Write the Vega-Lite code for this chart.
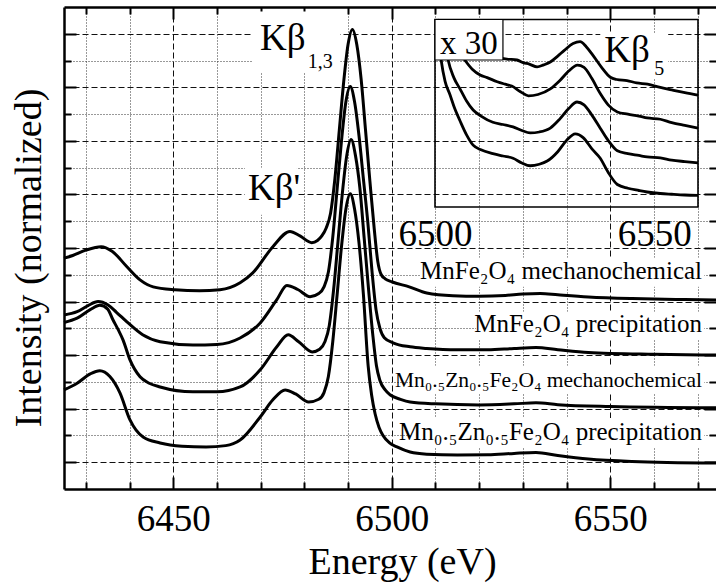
{
 "$schema": "https://vega.github.io/schema/vega-lite/v6.json",
 "width": 652,
 "height": 482,
 "autosize": {"type": "none"},
 "padding": {"left": 64, "top": 7, "right": 0, "bottom": 94},
 "config": {
  "font": "Liberation Serif",
  "view": {"stroke": null},
  "axis": {"labelFont": "Liberation Serif", "titleFont": "Liberation Serif", "labelColor": "black", "titleColor": "black", "domainColor": "black", "tickColor": "black", "titleFontWeight": "normal", "labelOverlap": false, "labelFlush": false}
 },
 "datasets": {
  "spectra": [
   {"s":"A","E":6425,"I":8.62},{"s":"A","E":6427,"I":8.72},{"s":"A","E":6430,"I":8.92},{"s":"A","E":6433.5,"I":9.05},{"s":"A","E":6436,"I":8.88},{"s":"A","E":6439.4,"I":8.3},{"s":"A","E":6442.4,"I":7.81},{"s":"A","E":6445.4,"I":7.55},{"s":"A","E":6450.4,"I":7.44},{"s":"A","E":6456,"I":7.4},{"s":"A","E":6460.7,"I":7.44},{"s":"A","E":6465.3,"I":7.7},{"s":"A","E":6468.2,"I":8.07},{"s":"A","E":6472.8,"I":9.05},{"s":"A","E":6476.7,"I":9.62},{"s":"A","E":6479,"I":9.45},{"s":"A","E":6481.7,"I":9.2},{"s":"A","E":6483,"I":9.28},{"s":"A","E":6484,"I":9.45},{"s":"A","E":6485,"I":9.75},{"s":"A","E":6486,"I":10.3},{"s":"A","E":6487,"I":11.6},{"s":"A","E":6488,"I":13.4},{"s":"A","E":6489,"I":15.2},{"s":"A","E":6490,"I":16.6},{"s":"A","E":6491,"I":17.16},{"s":"A","E":6492,"I":16.6},{"s":"A","E":6493,"I":15.3},{"s":"A","E":6494,"I":13.4},{"s":"A","E":6495,"I":11.5},{"s":"A","E":6496,"I":9.7},{"s":"A","E":6496.8,"I":8.5},{"s":"A","E":6497.6,"I":8.0},{"s":"A","E":6498.5,"I":7.85},{"s":"A","E":6500,"I":7.74},{"s":"A","E":6504,"I":7.55},{"s":"A","E":6508,"I":7.32},{"s":"A","E":6514,"I":7.22},{"s":"A","E":6520,"I":7.2},{"s":"A","E":6526,"I":7.23},{"s":"A","E":6530,"I":7.28},{"s":"A","E":6534,"I":7.3},{"s":"A","E":6538,"I":7.25},{"s":"A","E":6545,"I":7.17},{"s":"A","E":6555,"I":7.11},{"s":"A","E":6565,"I":7.08},{"s":"A","E":6574.2,"I":7.06},
   {"s":"B","E":6425,"I":6.5},{"s":"B","E":6428,"I":6.62},{"s":"B","E":6430.5,"I":6.85},{"s":"B","E":6432.8,"I":7.0},{"s":"B","E":6435,"I":6.88},{"s":"B","E":6437,"I":6.6},{"s":"B","E":6439.4,"I":6.24},{"s":"B","E":6443,"I":5.76},{"s":"B","E":6447,"I":5.5},{"s":"B","E":6454.5,"I":5.38},{"s":"B","E":6460,"I":5.4},{"s":"B","E":6465.3,"I":5.64},{"s":"B","E":6469.9,"I":6.2},{"s":"B","E":6473.7,"I":7.07},{"s":"B","E":6476,"I":7.6},{"s":"B","E":6478.5,"I":7.45},{"s":"B","E":6481.3,"I":7.18},{"s":"B","E":6483.3,"I":7.3},{"s":"B","E":6484.5,"I":7.55},{"s":"B","E":6485.5,"I":8.1},{"s":"B","E":6486.5,"I":9.4},{"s":"B","E":6487.5,"I":11.2},{"s":"B","E":6488.5,"I":13.0},{"s":"B","E":6489.5,"I":14.45},{"s":"B","E":6490.5,"I":15.03},{"s":"B","E":6491.5,"I":14.45},{"s":"B","E":6492.5,"I":13.2},{"s":"B","E":6493.5,"I":11.6},{"s":"B","E":6494.5,"I":10.0},{"s":"B","E":6495.5,"I":8.1},{"s":"B","E":6496.4,"I":6.7},{"s":"B","E":6497.3,"I":6.0},{"s":"B","E":6498.3,"I":5.65},{"s":"B","E":6500.3,"I":5.46},{"s":"B","E":6504.2,"I":5.31},{"s":"B","E":6508,"I":5.25},{"s":"B","E":6515,"I":5.2},{"s":"B","E":6522,"I":5.2},{"s":"B","E":6528,"I":5.25},{"s":"B","E":6533,"I":5.28},{"s":"B","E":6538,"I":5.2},{"s":"B","E":6545,"I":5.1},{"s":"B","E":6560,"I":5.03},{"s":"B","E":6574.2,"I":5.0},
   {"s":"C","E":6425,"I":6.22},{"s":"C","E":6428,"I":6.38},{"s":"C","E":6431,"I":6.7},{"s":"C","E":6433.2,"I":6.86},{"s":"C","E":6435,"I":6.72},{"s":"C","E":6436.2,"I":6.32},{"s":"C","E":6437.4,"I":5.95},{"s":"C","E":6438.5,"I":5.57},{"s":"C","E":6440.1,"I":4.82},{"s":"C","E":6442.4,"I":4.19},{"s":"C","E":6444.5,"I":3.95},{"s":"C","E":6447,"I":3.81},{"s":"C","E":6454.5,"I":3.63},{"s":"C","E":6460,"I":3.63},{"s":"C","E":6465.3,"I":3.81},{"s":"C","E":6469.9,"I":4.45},{"s":"C","E":6473.7,"I":5.31},{"s":"C","E":6476.3,"I":5.76},{"s":"C","E":6478.7,"I":5.5},{"s":"C","E":6481.8,"I":5.12},{"s":"C","E":6483.5,"I":5.22},{"s":"C","E":6484.7,"I":5.5},{"s":"C","E":6485.7,"I":6.1},{"s":"C","E":6486.7,"I":7.45},{"s":"C","E":6487.7,"I":9.25},{"s":"C","E":6488.7,"I":11.05},{"s":"C","E":6489.7,"I":12.45},{"s":"C","E":6490.7,"I":13.05},{"s":"C","E":6491.7,"I":12.45},{"s":"C","E":6492.7,"I":11.25},{"s":"C","E":6493.7,"I":9.35},{"s":"C","E":6494.7,"I":7.45},{"s":"C","E":6495.7,"I":5.7},{"s":"C","E":6496.5,"I":4.6},{"s":"C","E":6497.3,"I":4.05},{"s":"C","E":6498.5,"I":3.7},{"s":"C","E":6499.6,"I":3.52},{"s":"C","E":6502,"I":3.35},{"s":"C","E":6504.2,"I":3.25},{"s":"C","E":6510,"I":3.18},{"s":"C","E":6520,"I":3.14},{"s":"C","E":6528,"I":3.18},{"s":"C","E":6533,"I":3.22},{"s":"C","E":6538,"I":3.15},{"s":"C","E":6550,"I":3.08},{"s":"C","E":6574.2,"I":3.03},
   {"s":"D","E":6425,"I":3.7},{"s":"D","E":6428,"I":3.95},{"s":"D","E":6431,"I":4.3},{"s":"D","E":6433.2,"I":4.42},{"s":"D","E":6435.5,"I":4.2},{"s":"D","E":6437.8,"I":3.59},{"s":"D","E":6440.1,"I":2.58},{"s":"D","E":6443.1,"I":1.94},{"s":"D","E":6447,"I":1.72},{"s":"D","E":6452,"I":1.6},{"s":"D","E":6457.5,"I":1.57},{"s":"D","E":6462,"I":1.62},{"s":"D","E":6465.3,"I":1.83},{"s":"D","E":6469.9,"I":2.69},{"s":"D","E":6472.8,"I":3.33},{"s":"D","E":6475.6,"I":3.7},{"s":"D","E":6478,"I":3.55},{"s":"D","E":6481,"I":3.25},{"s":"D","E":6483.3,"I":3.35},{"s":"D","E":6484.5,"I":3.6},{"s":"D","E":6485.5,"I":4.2},{"s":"D","E":6486.5,"I":5.5},{"s":"D","E":6487.5,"I":7.25},{"s":"D","E":6488.5,"I":9.05},{"s":"D","E":6489.5,"I":10.45},{"s":"D","E":6490.5,"I":11.03},{"s":"D","E":6491.5,"I":10.45},{"s":"D","E":6492.5,"I":9.2},{"s":"D","E":6493.5,"I":7.3},{"s":"D","E":6494.6,"I":4.6},{"s":"D","E":6495.4,"I":3.5},{"s":"D","E":6496.2,"I":2.8},{"s":"D","E":6497.1,"I":2.3},{"s":"D","E":6498,"I":2.0},{"s":"D","E":6499.5,"I":1.72},{"s":"D","E":6501.2,"I":1.57},{"s":"D","E":6504.2,"I":1.38},{"s":"D","E":6508,"I":1.3},{"s":"D","E":6515,"I":1.27},{"s":"D","E":6522,"I":1.28},{"s":"D","E":6528,"I":1.33},{"s":"D","E":6533,"I":1.36},{"s":"D","E":6538,"I":1.25},{"s":"D","E":6545,"I":1.12},{"s":"D","E":6555,"I":1.03},{"s":"D","E":6574.2,"I":0.97}
  ],
  "inset": [
   {"s":"A","E":6500.5,"I":10.0},{"s":"A","E":6503,"I":9.3},{"s":"A","E":6508,"I":8.5},{"s":"A","E":6513,"I":8.05},{"s":"A","E":6516.4,"I":7.89},{"s":"A","E":6518.7,"I":7.84},{"s":"A","E":6520.1,"I":7.7},{"s":"A","E":6521.5,"I":7.62},{"s":"A","E":6523.3,"I":7.47},{"s":"A","E":6524.8,"I":7.58},{"s":"A","E":6526.3,"I":7.73},{"s":"A","E":6528,"I":8.05},{"s":"A","E":6529.5,"I":8.35},{"s":"A","E":6531.5,"I":8.72},{"s":"A","E":6533.1,"I":8.82},{"s":"A","E":6534.5,"I":8.55},{"s":"A","E":6536,"I":8.1},{"s":"A","E":6538,"I":7.45},{"s":"A","E":6540,"I":6.92},{"s":"A","E":6541.5,"I":6.8},{"s":"A","E":6543.8,"I":6.74},{"s":"A","E":6546,"I":6.62},{"s":"A","E":6548.5,"I":6.55},{"s":"A","E":6551.4,"I":6.38},{"s":"A","E":6554,"I":6.25},{"s":"A","E":6557,"I":6.1},{"s":"A","E":6560,"I":5.97},
   {"s":"B","E":6502.5,"I":10.0},{"s":"B","E":6504.5,"I":8.7},{"s":"B","E":6506.8,"I":7.84},{"s":"B","E":6508.5,"I":7.35},{"s":"B","E":6510.3,"I":7.04},{"s":"B","E":6511.9,"I":6.9},{"s":"B","E":6514.2,"I":6.68},{"s":"B","E":6516,"I":6.55},{"s":"B","E":6517.5,"I":6.45},{"s":"B","E":6519.5,"I":6.15},{"s":"B","E":6521.3,"I":5.93},{"s":"B","E":6523.5,"I":6.0},{"s":"B","E":6526.3,"I":6.3},{"s":"B","E":6528.5,"I":6.75},{"s":"B","E":6530.5,"I":7.25},{"s":"B","E":6532.5,"I":7.57},{"s":"B","E":6534,"I":7.45},{"s":"B","E":6535.8,"I":6.85},{"s":"B","E":6537.7,"I":6.05},{"s":"B","E":6539.5,"I":5.45},{"s":"B","E":6541.6,"I":5.07},{"s":"B","E":6544,"I":4.95},{"s":"B","E":6546.5,"I":4.85},{"s":"B","E":6548.4,"I":4.75},{"s":"B","E":6551.4,"I":4.68},{"s":"B","E":6554,"I":4.5},{"s":"B","E":6557,"I":4.35},{"s":"B","E":6560,"I":4.21},
   {"s":"C","E":6501.5,"I":10.0},{"s":"C","E":6502.3,"I":8.8},{"s":"C","E":6503,"I":7.84},{"s":"C","E":6504.3,"I":6.9},{"s":"C","E":6505.7,"I":6.3},{"s":"C","E":6507.2,"I":5.65},{"s":"C","E":6508.7,"I":5.17},{"s":"C","E":6510.5,"I":4.85},{"s":"C","E":6513.2,"I":4.52},{"s":"C","E":6515.5,"I":4.4},{"s":"C","E":6517.8,"I":4.27},{"s":"C","E":6519.8,"I":4.08},{"s":"C","E":6521.7,"I":3.95},{"s":"C","E":6523.8,"I":4.0},{"s":"C","E":6526.3,"I":4.21},{"s":"C","E":6528.5,"I":4.7},{"s":"C","E":6530.5,"I":5.25},{"s":"C","E":6532.4,"I":5.6},{"s":"C","E":6534,"I":5.45},{"s":"C","E":6535.8,"I":4.9},{"s":"C","E":6537.7,"I":4.2},{"s":"C","E":6539.5,"I":3.55},{"s":"C","E":6541.6,"I":3.0},{"s":"C","E":6544,"I":2.85},{"s":"C","E":6546.5,"I":2.75},{"s":"C","E":6548.4,"I":2.67},{"s":"C","E":6551.4,"I":2.62},{"s":"C","E":6554,"I":2.5},{"s":"C","E":6557,"I":2.42},{"s":"C","E":6560,"I":2.35},
   {"s":"D","E":6500.4,"I":10.0},{"s":"D","E":6500.9,"I":8.8},{"s":"D","E":6501.4,"I":7.84},{"s":"D","E":6502.3,"I":6.7},{"s":"D","E":6503.4,"I":6.0},{"s":"D","E":6504.5,"I":5.25},{"s":"D","E":6505.7,"I":4.6},{"s":"D","E":6507.2,"I":3.85},{"s":"D","E":6508.7,"I":3.3},{"s":"D","E":6510.5,"I":3.05},{"s":"D","E":6513.2,"I":2.85},{"s":"D","E":6515.5,"I":2.72},{"s":"D","E":6517.8,"I":2.6},{"s":"D","E":6519.8,"I":2.35},{"s":"D","E":6521.7,"I":2.2},{"s":"D","E":6523.8,"I":2.28},{"s":"D","E":6525.6,"I":2.45},{"s":"D","E":6528,"I":2.95},{"s":"D","E":6530,"I":3.55},{"s":"D","E":6532,"I":3.9},{"s":"D","E":6533.8,"I":3.7},{"s":"D","E":6535.8,"I":3.1},{"s":"D","E":6537.7,"I":2.6},{"s":"D","E":6539.5,"I":1.85},{"s":"D","E":6541.6,"I":1.2},{"s":"D","E":6544,"I":1.0},{"s":"D","E":6546.5,"I":0.88},{"s":"D","E":6548.4,"I":0.8},{"s":"D","E":6551.4,"I":0.72},{"s":"D","E":6554,"I":0.68},{"s":"D","E":6557,"I":0.64},{"s":"D","E":6560,"I":0.62}
  ],
  "boxes": [
   {"x":6468.2,"x2":6488.2,"y":15.55,"y2":17.83},
   {"x":6466.4,"x2":6478.3,"y":10.24,"y2":12.0},
   {"x":6506.5,"x2":6571.5,"y":7.55,"y2":8.64},
   {"x":6519.3,"x2":6571.5,"y":5.57,"y2":6.62},
   {"x":6504.4,"x2":6571.5,"y":3.55,"y2":4.6},
   {"x":6504.4,"x2":6571.5,"y":1.53,"y2":2.65}
  ]
 },
 "resolve": {"scale": {"x": "independent", "y": "independent"}, "axis": {"x": "independent", "y": "independent"}},
 "layer": [
  {
   "data": {"name": "boxes"},
   "mark": {"type": "rect", "fill": "white", "stroke": null},
   "encoding": {
    "x": {"field": "x", "type": "quantitative", "scale": {"domain": [6425, 6574.2], "nice": false, "zero": false},
     "axis": {"orient": "bottom", "values": [6430,6440,6460,6470,6480,6490,6510,6520,6530,6540,6560,6570], "grid": true, "gridDash": [1,2], "gridColor": "#333", "gridWidth": 1, "ticks": true, "tickSize": -7, "tickWidth": 2, "labels": false, "domain": false, "title": null}},
    "x2": {"field": "x2"},
    "y": {"field": "y", "type": "quantitative", "scale": {"domain": [0, 18], "nice": false, "zero": false},
     "axis": {"orient": "left", "values": [2,4,6,8,10,12,14,16], "grid": true, "gridDash": [1,2], "gridColor": "#333", "gridWidth": 1, "ticks": true, "tickSize": -7, "tickWidth": 2, "labels": false, "domain": false, "title": null}},
    "y2": {"field": "y2"}
   }
  },
  {
   "data": {"name": "spectra"},
   "mark": {"type": "line", "color": "black", "strokeWidth": 3, "interpolate": "monotone", "strokeJoin": "round"},
   "encoding": {
    "x": {"field": "E", "type": "quantitative", "scale": {"domain": [6425, 6574.2], "nice": false, "zero": false},
     "axis": {"orient": "bottom", "values": [6450,6500,6550], "format": "d", "grid": true, "gridDash": [6,3], "gridColor": "#111", "gridWidth": 1, "ticks": false, "labels": true, "labelFont": "Liberation Serif", "labelFontSize": 37, "labelBaseline": "alphabetic", "labelPadding": 41, "domain": true, "domainWidth": 2.5, "title": "Energy (eV)", "titleFont": "Liberation Serif", "titleFontSize": 38, "titleFontWeight": "normal", "titleBaseline": "alphabetic", "titleX": 338, "titleY": 84}},
    "y": {"field": "I", "type": "quantitative", "scale": {"domain": [0, 18], "nice": false, "zero": false},
     "axis": {"orient": "left", "values": [1,3,5,7,9,11,13,15,17], "grid": true, "gridDash": [6,3], "gridColor": "#111", "gridWidth": 1, "ticks": false, "labels": false, "domain": true, "domainWidth": 2.5, "title": "Intensity (normalized)", "titleFont": "Liberation Serif", "titleFontSize": 38, "titleFontWeight": "normal", "titleBaseline": "alphabetic", "titleAngle": 270, "titleX": -24, "titleY": 250.5}},
    "detail": {"field": "s"}
   }
  },
  {
   "data": {"values": [
    {"t": "MnFe₂O₄ mechanochemical", "x": 6571, "y": 7.85},
    {"t": "MnFe₂O₄ precipitation", "x": 6571, "y": 5.87},
    {"t": "Mn₀.₅Zn₀.₅Fe₂O₄ precipitation", "x": 6571, "y": 1.83}
   ]},
   "mark": {"type": "text", "align": "right", "baseline": "alphabetic", "fontSize": 25, "font": "Liberation Serif", "color": "black"},
   "encoding": {
    "x": {"field": "x", "type": "quantitative", "scale": {"domain": [6425, 6574.2], "nice": false, "zero": false},
     "axis": {"orient": "bottom", "values": [6450,6500,6550], "grid": false, "ticks": true, "tickSize": -12, "tickWidth": 2, "labels": false, "domain": false, "title": null}},
    "y": {"field": "y", "type": "quantitative", "scale": {"domain": [0, 18], "nice": false, "zero": false},
     "axis": {"orient": "left", "values": [1,3,5,7,9,11,13,15,17], "grid": false, "ticks": true, "tickSize": -12, "tickWidth": 2, "labels": false, "domain": false, "title": null}},
    "text": {"field": "t"}
   }
  },
  {
   "data": {"values": [
    {"t": "Mn₀.₅Zn₀.₅Fe₂O₄ mechanochemical", "x": 6571, "y": 3.81}
   ]},
   "mark": {"type": "text", "align": "right", "baseline": "alphabetic", "fontSize": 21.5, "font": "Liberation Serif", "color": "black"},
   "encoding": {
    "x": {"field": "x", "type": "quantitative", "scale": {"domain": [6425, 6574.2], "nice": false, "zero": false},
     "axis": {"orient": "top", "values": [6450,6500,6550], "grid": false, "ticks": true, "tickSize": -12, "tickWidth": 2, "labels": false, "domain": true, "domainWidth": 2.5, "title": null}},
    "y": {"field": "y", "type": "quantitative", "scale": {"domain": [0, 18], "nice": false, "zero": false},
     "axis": {"orient": "right", "values": [1,3,5,7,9,11,13,15,17], "grid": false, "ticks": true, "tickSize": -12, "tickWidth": 2, "labels": false, "domain": false, "title": null}},
    "text": {"field": "t"}
   }
  },
  {
   "data": {"values": [
    {"t": "Kβ", "x": 6469.85, "y": 16.41},
    {"t": "Kβ'", "x": 6467.1, "y": 10.8}
   ]},
   "mark": {"type": "text", "align": "left", "baseline": "alphabetic", "fontSize": 37, "font": "Liberation Serif", "color": "black"},
   "encoding": {
    "x": {"field": "x", "type": "quantitative", "scale": {"domain": [6425, 6574.2], "nice": false, "zero": false},
     "axis": {"orient": "top", "values": [6430,6440,6460,6470,6480,6490,6510,6520,6530,6540,6560,6570], "grid": false, "ticks": true, "tickSize": -7, "tickWidth": 2, "labels": false, "domain": false, "title": null}},
    "y": {"field": "y", "type": "quantitative", "scale": {"domain": [0, 18], "nice": false, "zero": false},
     "axis": {"orient": "right", "values": [2,4,6,8,10,12,14,16], "grid": false, "ticks": true, "tickSize": -7, "tickWidth": 2, "labels": false, "domain": false, "title": null}},
    "text": {"field": "t"}
   }
  },
  {
   "data": {"values": [{"t": "1,3", "x": 6480.8, "y": 15.74}]},
   "mark": {"type": "text", "align": "left", "baseline": "alphabetic", "fontSize": 20, "font": "Liberation Serif", "color": "black"},
   "encoding": {
    "x": {"field": "x", "type": "quantitative", "scale": {"domain": [6425, 6574.2], "nice": false, "zero": false}, "axis": null},
    "y": {"field": "y", "type": "quantitative", "scale": {"domain": [0, 18], "nice": false, "zero": false}, "axis": null},
    "text": {"field": "t"}
   }
  },
  {
   "data": {"values": [{"x": 6537.7, "x2": 6553.2, "y": 6.83, "y2": 9.28}]},
   "mark": {"type": "rect", "fill": "white", "stroke": null},
   "encoding": {
    "x": {"field": "x", "type": "quantitative", "scale": {"domain": [6500, 6560], "range": [371, 634], "nice": false, "zero": false}, "axis": null},
    "x2": {"field": "x2"},
    "y": {"field": "y", "type": "quantitative", "scale": {"domain": [0, 10], "range": [200, 12.5], "nice": false, "zero": false}, "axis": null},
    "y2": {"field": "y2"}
   }
  },
  {
   "data": {"name": "inset"},
   "mark": {"type": "line", "color": "black", "strokeWidth": 2.8, "interpolate": "monotone", "strokeJoin": "round"},
   "encoding": {
    "x": {"field": "E", "type": "quantitative", "scale": {"domain": [6500, 6560], "range": [371, 634], "nice": false, "zero": false},
     "axis": {"orient": "bottom", "offset": -282, "values": [6500, 6550], "format": "d", "grid": false, "ticks": false, "labels": true, "labelFont": "Liberation Serif", "labelFontSize": 37, "labelBaseline": "alphabetic", "labelPadding": 38, "labelFlush": false, "domain": false, "title": null}},
    "y": {"field": "I", "type": "quantitative", "scale": {"domain": [0, 10], "range": [200, 12.5], "nice": false, "zero": false}, "axis": null},
    "detail": {"field": "s"}
   }
  },
  {
   "data": {"values": [{"x": 6500, "x2": 6560, "y": 0, "y2": 10}]},
   "mark": {"type": "rect", "fill": "transparent", "stroke": "black", "strokeWidth": 1.6},
   "encoding": {
    "x": {"field": "x", "type": "quantitative", "scale": {"domain": [6500, 6560], "range": [371, 634], "nice": false, "zero": false}, "axis": null},
    "x2": {"field": "x2"},
    "y": {"field": "y", "type": "quantitative", "scale": {"domain": [0, 10], "range": [200, 12.5], "nice": false, "zero": false}, "axis": null},
    "y2": {"field": "y2"}
   }
  },
  {
   "data": {"values": [{"x": 6500, "x2": 6515.5, "y": 7.84, "y2": 10}]},
   "mark": {"type": "rect", "fill": "white", "stroke": "black", "strokeWidth": 1.2},
   "encoding": {
    "x": {"field": "x", "type": "quantitative", "scale": {"domain": [6500, 6560], "range": [371, 634], "nice": false, "zero": false}, "axis": null},
    "x2": {"field": "x2"},
    "y": {"field": "y", "type": "quantitative", "scale": {"domain": [0, 10], "range": [200, 12.5], "nice": false, "zero": false}, "axis": null},
    "y2": {"field": "y2"}
   }
  },
  {
   "data": {"values": [{"t": "x 30", "x": 6507.75, "y": 8.16}]},
   "mark": {"type": "text", "align": "center", "baseline": "alphabetic", "fontSize": 33, "font": "Liberation Serif", "color": "black"},
   "encoding": {
    "x": {"field": "x", "type": "quantitative", "scale": {"domain": [6500, 6560], "range": [371, 634], "nice": false, "zero": false}, "axis": null},
    "y": {"field": "y", "type": "quantitative", "scale": {"domain": [0, 10], "range": [200, 12.5], "nice": false, "zero": false}, "axis": null},
    "text": {"field": "t"}
   }
  },
  {
   "data": {"values": [{"t": "Kβ", "x": 6538.6, "y": 7.72}]},
   "mark": {"type": "text", "align": "left", "baseline": "alphabetic", "fontSize": 37, "font": "Liberation Serif", "color": "black"},
   "encoding": {
    "x": {"field": "x", "type": "quantitative", "scale": {"domain": [6500, 6560], "range": [371, 634], "nice": false, "zero": false}, "axis": null},
    "y": {"field": "y", "type": "quantitative", "scale": {"domain": [0, 10], "range": [200, 12.5], "nice": false, "zero": false}, "axis": null},
    "text": {"field": "t"}
   }
  },
  {
   "data": {"values": [{"t": "5", "x": 6550, "y": 7.04}]},
   "mark": {"type": "text", "align": "left", "baseline": "alphabetic", "fontSize": 20, "font": "Liberation Serif", "color": "black"},
   "encoding": {
    "x": {"field": "x", "type": "quantitative", "scale": {"domain": [6500, 6560], "range": [371, 634], "nice": false, "zero": false}, "axis": null},
    "y": {"field": "y", "type": "quantitative", "scale": {"domain": [0, 10], "range": [200, 12.5], "nice": false, "zero": false}, "axis": null},
    "text": {"field": "t"}
   }
  }
 ]
}
